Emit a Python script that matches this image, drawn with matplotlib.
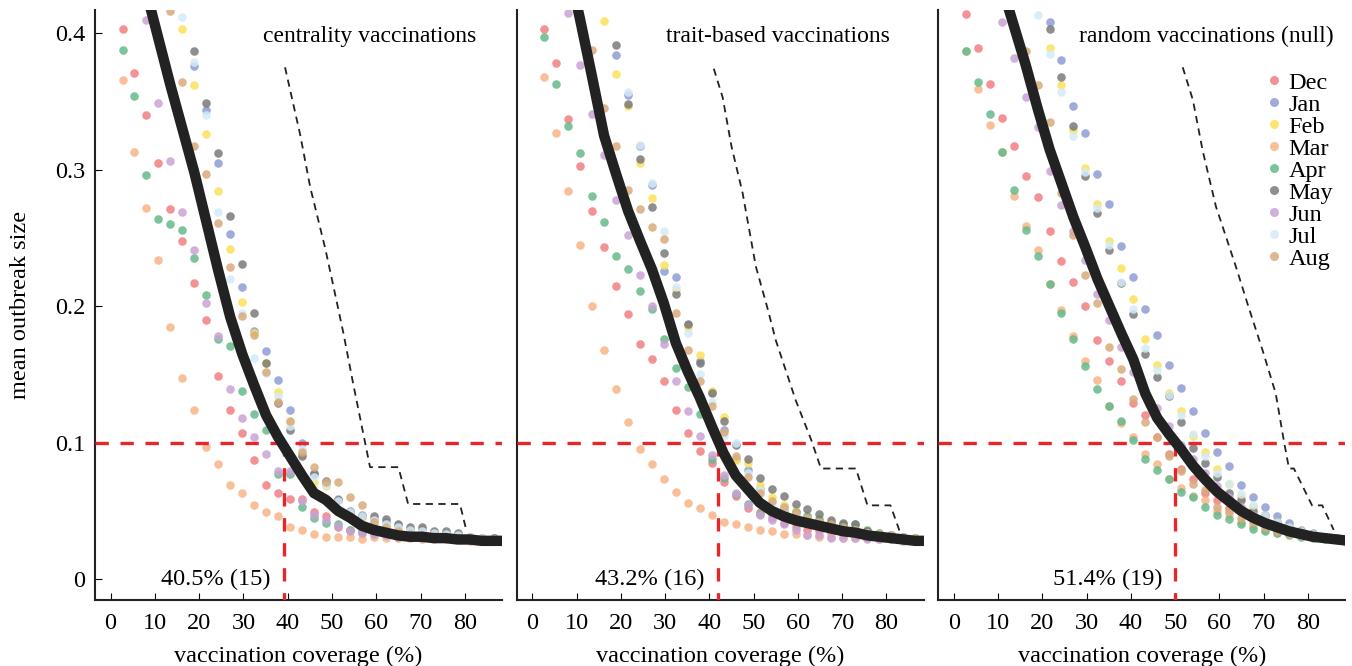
import numpy as np
import matplotlib
matplotlib.use("Agg")
import matplotlib.pyplot as plt
from matplotlib.lines import Line2D

N = np.nan

# number of vaccinated nodes (network of 37) -> coverage in %
n_vacc = np.arange(1, 33)
coverage = n_vacc * 100 / 37
line_cov = np.arange(1, 34) * 100 / 37

months = ["Dec", "Jan", "Feb", "Mar", "Apr", "May", "Jun", "Jul", "Aug"]
month_colors = ["#f07f83", "#8e9cd3", "#fbe15a", "#f8b486", "#66b98b",
                "#7a7a7a", "#c9a2d4", "#d4ebf8", "#d9ab7c"]

# ---- centrality vaccinations
cen_dec = [0.403, 0.371, 0.340, 0.305, 0.271, 0.248, 0.217, 0.190, 0.149, 0.124, 0.107, 0.087, 0.069, 0.063, 0.059, 0.059,
           0.049, 0.046, 0.038, 0.036, 0.034, 0.033, 0.032, 0.031, 0.031, 0.030, 0.030, 0.030, 0.029, 0.029, 0.029, 0.028]
cen_jan = [N, N, N, N, N, N, 0.376, 0.344, 0.305, 0.253, 0.214, 0.182, 0.167, 0.146, 0.124, 0.100,
           0.078, 0.070, 0.059, 0.050, 0.047, 0.044, 0.042, 0.039, 0.036, 0.036, 0.034, 0.033, 0.032, 0.031, 0.030, 0.030]
cen_feb = [N, N, N, N, N, 0.403, 0.362, 0.326, 0.284, 0.242, 0.203, 0.180, 0.158, 0.137, 0.115, 0.092,
           0.071, 0.068, 0.057, 0.048, 0.045, 0.041, 0.039, 0.037, 0.035, 0.034, 0.033, 0.032, 0.031, 0.030, 0.030, 0.029]
cen_mar = [0.366, 0.313, 0.272, 0.234, 0.185, 0.147, 0.124, 0.097, 0.084, 0.069, 0.063, 0.054, 0.049, 0.046, 0.038, 0.036,
           0.033, 0.031, 0.031, 0.031, 0.029, 0.031, 0.030, 0.030, 0.030, 0.029, 0.029, 0.029, 0.029, 0.028, 0.028, 0.028]
cen_apr = [0.388, 0.354, 0.296, 0.264, 0.260, 0.256, 0.235, 0.208, 0.176, 0.171, 0.138, 0.121, 0.109, 0.077, 0.077, 0.053,
           0.045, 0.041, 0.040, 0.036, 0.035, 0.034, 0.033, 0.032, 0.031, 0.031, 0.030, 0.030, 0.029, 0.029, 0.029, 0.028]
cen_may = [N, N, N, N, N, N, 0.387, 0.349, 0.312, 0.266, 0.231, 0.195, 0.158, 0.129, 0.109, 0.090,
           0.077, 0.072, 0.058, 0.049, 0.046, 0.046, 0.044, 0.040, 0.038, 0.038, 0.035, 0.035, 0.034, 0.031, 0.030, 0.030]
cen_jun = [N, N, 0.410, 0.349, 0.306, 0.269, 0.241, 0.202, 0.178, 0.139, 0.118, 0.104, 0.092, 0.079, 0.079, 0.057,
           0.047, 0.043, 0.039, 0.035, 0.034, 0.033, 0.032, 0.031, 0.031, 0.030, 0.030, 0.030, 0.029, 0.029, 0.029, 0.028]
cen_jul = [N, N, N, N, N, 0.412, 0.379, 0.340, 0.269, 0.220, 0.195, 0.162, 0.151, 0.134, 0.112, 0.095,
           0.075, 0.069, 0.057, 0.049, 0.046, 0.043, 0.040, 0.038, 0.036, 0.035, 0.034, 0.033, 0.032, 0.031, 0.030, 0.029]
cen_aug = [N, N, N, N, 0.416, 0.364, 0.317, 0.297, 0.261, 0.229, 0.193, 0.179, 0.152, 0.130, 0.116, 0.093,
           0.082, 0.071, 0.071, 0.060, 0.054, 0.042, 0.038, 0.035, 0.033, 0.032, 0.031, 0.031, 0.030, 0.030, 0.029, 0.029]
cen_mean = [0.47, 0.45, 0.43, 0.396, 0.362, 0.330, 0.298, 0.262, 0.226, 0.192, 0.165, 0.142, 0.120, 0.104, 0.090, 0.076,
            0.063, 0.058, 0.050, 0.045, 0.039, 0.036, 0.034, 0.032, 0.031, 0.031, 0.030, 0.030, 0.029, 0.029, 0.028, 0.028, 0.028]
cen_ref_x = [39.4, 42.8, 45.1, 48.5, 50.3, 52.6, 54.8, 56.3, 58.6, 65.0, 67.2, 78.9, 80.4]
cen_ref_y = [0.375, 0.326, 0.287, 0.242, 0.215, 0.180, 0.143, 0.119, 0.082, 0.082, 0.055, 0.055, 0.035]

# ---- trait-based vaccinations
tra_dec = [0.403, 0.378, 0.337, 0.303, 0.270, 0.243, 0.215, 0.194, 0.172, 0.161, 0.145, 0.124, 0.107, 0.094, 0.085, 0.071,
           0.061, 0.052, 0.049, 0.045, 0.041, 0.038, 0.036, 0.035, 0.034, 0.033, 0.032, 0.031, 0.031, 0.030, 0.029, 0.029]
tra_jan = [N, N, N, N, N, N, 0.384, 0.355, 0.317, 0.289, 0.226, 0.221, 0.186, 0.160, 0.137, 0.109,
           0.088, 0.080, 0.066, 0.048, 0.050, 0.046, 0.043, 0.041, 0.039, 0.038, 0.037, 0.035, 0.033, 0.032, 0.031, 0.030]
tra_feb = [N, N, N, N, N, 0.409, 0.370, 0.347, 0.305, 0.279, 0.230, 0.212, 0.185, 0.164, 0.138, 0.119,
           0.087, 0.085, 0.069, 0.060, 0.054, 0.050, 0.046, 0.043, 0.041, 0.039, 0.038, 0.036, 0.034, 0.032, 0.031, 0.030]
tra_mar = [0.368, 0.327, 0.284, 0.245, 0.200, 0.168, 0.139, 0.115, 0.095, 0.084, 0.073, 0.064, 0.056, 0.052, 0.047, 0.042,
           0.040, 0.038, 0.036, 0.035, 0.033, 0.033, 0.032, 0.031, 0.031, 0.030, 0.030, 0.030, 0.029, 0.029, 0.029, 0.028]
tra_apr = [0.397, 0.363, 0.332, 0.312, 0.281, 0.262, 0.237, 0.227, 0.211, 0.198, 0.176, 0.155, 0.141, 0.121, 0.088, 0.074,
           0.062, 0.055, 0.048, 0.050, 0.052, 0.049, 0.046, 0.044, 0.041, 0.040, 0.040, 0.036, 0.034, 0.032, 0.031, 0.030]
tra_may = [N, N, N, N, N, N, 0.391, 0.348, 0.308, 0.273, 0.239, 0.209, 0.187, 0.158, 0.136, 0.116,
           0.098, 0.088, 0.074, 0.066, 0.061, 0.055, 0.051, 0.048, 0.043, 0.041, 0.040, 0.035, 0.033, 0.032, 0.031, 0.030]
tra_jun = [N, N, 0.415, 0.377, 0.341, 0.311, 0.278, 0.252, 0.223, 0.200, 0.172, 0.145, 0.123, 0.105, 0.091, 0.076,
           0.063, 0.054, 0.047, 0.043, 0.040, 0.036, 0.032, 0.032, 0.030, 0.030, 0.030, 0.029, 0.029, 0.029, 0.028, 0.028]
tra_jul = [N, N, N, N, N, N, N, 0.357, 0.318, 0.290, 0.255, 0.214, 0.180, 0.150, 0.130, 0.105,
           0.100, 0.078, 0.065, 0.056, 0.052, 0.047, 0.044, 0.041, 0.039, 0.037, 0.036, 0.034, 0.033, 0.032, 0.031, 0.030]
tra_aug = [N, N, N, N, 0.388, 0.345, 0.317, 0.285, 0.271, 0.258, 0.249, 0.195, 0.168, 0.145, 0.127, 0.108,
           0.090, 0.075, 0.063, 0.057, 0.053, 0.049, 0.045, 0.042, 0.040, 0.038, 0.036, 0.034, 0.033, 0.032, 0.031, 0.030]
tra_mean = [0.50, 0.48, 0.45, 0.41, 0.368, 0.325, 0.297, 0.27, 0.248, 0.227, 0.202, 0.173, 0.152, 0.133, 0.112, 0.092,
            0.076, 0.066, 0.056, 0.050, 0.046, 0.043, 0.041, 0.039, 0.037, 0.035, 0.034, 0.032, 0.031, 0.030, 0.029, 0.028, 0.028]
tra_ref_x = [41.0, 43.0, 45.0, 47.5, 50.5, 53.0, 55.0, 59.5, 63.0, 65.2, 73.1, 75.7, 80.9, 83.2]
tra_ref_y = [0.374, 0.353, 0.317, 0.283, 0.229, 0.200, 0.175, 0.131, 0.102, 0.081, 0.081, 0.054, 0.054, 0.033]

# ---- random vaccinations (null)
ran_dec = [0.414, 0.389, 0.363, 0.338, 0.317, 0.295, 0.280, 0.255, 0.233, 0.218, 0.200, 0.175, 0.160, 0.145, 0.129, 0.120,
           0.104, 0.092, 0.081, 0.073, 0.063, 0.058, 0.052, 0.051, 0.045, 0.040, 0.037, 0.035, 0.033, 0.031, 0.030, 0.029]
ran_jan = [N, N, N, N, N, N, N, 0.408, 0.380, 0.347, 0.327, 0.297, 0.275, 0.244, 0.221, 0.198,
           0.179, 0.157, 0.140, 0.123, 0.107, 0.093, 0.083, 0.069, 0.060, 0.053, 0.046, 0.041, 0.036, 0.034, 0.031, 0.030]
ran_feb = [N, N, N, N, N, N, N, 0.389, 0.362, 0.329, 0.301, 0.275, 0.248, 0.228, 0.205, 0.176,
           0.157, 0.136, 0.123, 0.105, 0.093, 0.081, 0.070, 0.060, 0.053, 0.046, 0.042, 0.038, 0.035, 0.033, 0.031, 0.030]
ran_mar = [0.387, 0.359, 0.333, 0.313, 0.281, 0.259, 0.241, 0.216, 0.197, 0.178, 0.160, 0.146, 0.127, 0.114, 0.104, 0.092,
           0.084, 0.073, 0.067, 0.061, 0.058, 0.050, 0.048, 0.042, 0.039, 0.036, 0.034, 0.033, 0.032, 0.031, 0.030, 0.029]
ran_apr = [0.387, 0.364, 0.341, 0.313, 0.285, 0.256, 0.237, 0.216, 0.195, 0.176, 0.156, 0.139, 0.127, 0.116, 0.102, 0.088,
           0.080, 0.073, 0.064, 0.060, 0.053, 0.047, 0.044, 0.040, 0.037, 0.035, 0.034, 0.032, 0.031, 0.030, 0.029, 0.029]
ran_may = [N, N, N, N, N, N, N, 0.403, 0.368, 0.332, 0.295, 0.268, 0.241, 0.217, 0.194, 0.165,
           0.148, 0.134, 0.115, 0.096, 0.085, 0.075, 0.063, 0.058, 0.050, 0.047, 0.042, 0.038, 0.035, 0.033, 0.031, 0.030]
ran_jun = [N, N, N, 0.408, 0.382, 0.353, 0.331, 0.299, 0.274, 0.255, 0.234, 0.209, 0.190, 0.170, 0.152, 0.138,
           0.125, 0.112, 0.098, 0.088, 0.078, 0.068, 0.060, 0.053, 0.047, 0.042, 0.038, 0.035, 0.033, 0.031, 0.030, 0.029]
ran_jul = [N, N, N, N, N, N, 0.413, 0.385, 0.357, 0.325, 0.298, 0.272, 0.245, 0.218, 0.198, 0.169,
           0.153, 0.135, 0.120, 0.106, 0.090, 0.078, 0.070, 0.062, 0.054, 0.047, 0.042, 0.038, 0.035, 0.033, 0.031, 0.030]
ran_aug = [N, N, N, N, N, 0.387, 0.362, 0.335, 0.283, 0.252, 0.223, 0.202, 0.170, 0.154, 0.132, 0.115,
           0.104, 0.090, 0.079, 0.070, 0.065, 0.053, 0.050, 0.045, 0.042, 0.038, 0.035, 0.033, 0.032, 0.031, 0.030, 0.029]
ran_mean = [0.53, 0.50, 0.47, 0.435, 0.406, 0.377, 0.345, 0.315, 0.290, 0.265, 0.243, 0.220, 0.200, 0.180, 0.161, 0.136,
            0.118, 0.106, 0.095, 0.083, 0.073, 0.064, 0.057, 0.050, 0.045, 0.041, 0.038, 0.035, 0.033, 0.031, 0.030, 0.029, 0.028]
ran_ref_x = [51.7, 54.0, 56.2, 59.2, 63.7, 66.5, 69.7, 72.7, 74.5, 75.7, 76.8, 80.9, 83.2, 85.8]
ran_ref_y = [0.375, 0.351, 0.314, 0.273, 0.229, 0.200, 0.168, 0.136, 0.102, 0.081, 0.081, 0.054, 0.054, 0.036]

titles = ["centrality vaccinations", "trait-based vaccinations", "random vaccinations (null)"]
threshold_labels = ["40.5% (15)", "43.2% (16)", "51.4% (19)"]
threshold_x = [39.1, 41.9, 50.0]
threshold_y = 0.1

panels = [
    ([cen_dec, cen_jan, cen_feb, cen_mar, cen_apr, cen_may, cen_jun, cen_jul, cen_aug], cen_mean, cen_ref_x, cen_ref_y),
    ([tra_dec, tra_jan, tra_feb, tra_mar, tra_apr, tra_may, tra_jun, tra_jul, tra_aug], tra_mean, tra_ref_x, tra_ref_y),
    ([ran_dec, ran_jan, ran_feb, ran_mar, ran_apr, ran_may, ran_jun, ran_jul, ran_aug], ran_mean, ran_ref_x, ran_ref_y),
]

plt.rcParams['font.family'] = ['Liberation Serif', 'DejaVu Serif']

fig = plt.figure(figsize=(13.52, 6.66), dpi=100)
lefts = [0.0703, 0.3822, 0.694]
title_x = [0.936, 0.917, 0.972]
fs = 17.5

for i, (series, mean, ref_x, ref_y) in enumerate(panels):
    ax = fig.add_axes([lefts[i], 0.099, 0.301, 0.886])
    for vals, c in zip(series, month_colors):
        ax.scatter(coverage, vals, s=38, color=c, alpha=0.85, linewidths=0, zorder=2)
    ax.axhline(threshold_y, color='#e8262a', lw=2.4, ls=(0, (4, 3.5)), zorder=3)
    ax.plot([threshold_x[i], threshold_x[i]], [-0.02, threshold_y], color='#e8262a', lw=2.4,
            ls=(0, (4, 3.5)), zorder=3)
    ax.plot(line_cov, mean, color='#222222', lw=7.5, zorder=4, solid_capstyle='butt')
    ax.plot(ref_x, ref_y, color='#222222', lw=1.3, ls=(0, (4, 3)), zorder=4)

    ax.text(threshold_x[i] - 2.9, 0.0, threshold_labels[i], ha='right', va='center', fontsize=fs)
    ax.text(title_x[i], 0.955, titles[i], transform=ax.transAxes, ha='right', va='center', fontsize=17)

    ax.set_xlim(-3.5, 88.4)
    ax.set_ylim(-0.0154, 0.417)
    ax.set_xticks(range(0, 81, 10))
    ax.tick_params(axis='x', direction='in', length=5, labelsize=fs, pad=9)
    ax.set_xlabel("vaccination coverage (%)", fontsize=fs, labelpad=9)
    for s in ['top', 'right']:
        ax.spines[s].set_visible(False)
    for s in ['left', 'bottom']:
        ax.spines[s].set_linewidth(1.5)
        ax.spines[s].set_color('#222222')
    if i == 0:
        ax.set_yticks([0, 0.1, 0.2, 0.3, 0.4])
        ax.set_yticklabels(["0", "0.1", "0.2", "0.3", "0.4"])
        ax.tick_params(axis='y', direction='in', length=5, labelsize=fs, pad=7)
        ax.set_ylabel("mean outbreak size", fontsize=fs)
        ax.yaxis.set_label_coords(-0.157, 0.5)
    else:
        ax.set_yticks([])
    if i == 2:
        handles = [Line2D([], [], marker='o', ls='none', markersize=6.5, color=c, alpha=0.85,
                          markeredgewidth=0) for c in month_colors]
        ax.legend(handles, months, loc='upper right', bbox_to_anchor=(1.0, 0.916), frameon=False,
                  fontsize=fs, handlelength=0.6, handletextpad=0.3, labelspacing=0.0, borderpad=0.0)

fig.savefig("out.png", dpi=100)
